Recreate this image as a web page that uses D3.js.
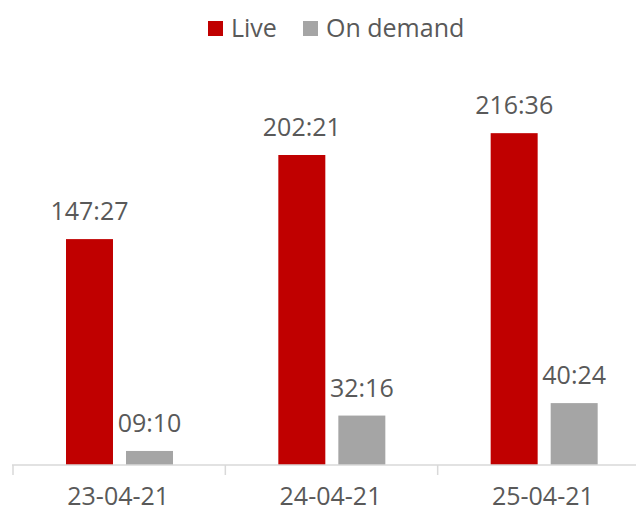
<!DOCTYPE html>
<html>
<head>
<meta charset="utf-8">
<script src="https://cdn.jsdelivr.net/npm/d3@7"></script>
<style>
  body { margin: 0; background: #fff; }
  text { font-family: "Open Sans", sans-serif; fill: #595959; }
</style>
</head>
<body>
<div id="chart"></div>
<script>
// data (hours:minutes)
const dates = ['23-04-21', '24-04-21', '25-04-21'];
const series = ['Live', 'On demand'];
const live = ['147:27', '202:21', '216:36'];
const onDemand = ['09:10', '32:16', '40:24'];
const colors = ['#c00000', '#a5a5a5'];

const toMinutes = s => {
  const [h, m] = s.split(':').map(Number);
  return h * 60 + m;
};

const rows = dates.map((d, i) => ({
  date: d,
  values: [
    {key: series[0], label: live[i], value: toMinutes(live[i])},
    {key: series[1], label: onDemand[i], value: toMinutes(onDemand[i])}
  ]
}));

// dimensions
const width = 636;
const height = 513;
const baseY = 465;
const topY = 82;

const svg = d3.select('#chart')
  .append('svg')
  .attr('width', width)
  .attr('height', height);

// scales
const x0 = d3.scaleBand().domain(dates).range([12, 649]);
const x1 = d3.scaleBand().domain(series).range([54, 161]).paddingInner(0.217);
const y = d3.scaleLinear().domain([0, 250 * 60]).range([baseY, topY]);
const color = d3.scaleOrdinal().domain(series).range(colors);

// bars
const groups = svg.selectAll('g.group')
  .data(rows)
  .enter().append('g')
  .attr('class', 'group')
  .attr('transform', d => 'translate(' + x0(d.date) + ',0)');

groups.selectAll('rect')
  .data(d => d.values)
  .enter().append('rect')
  .attr('x', d => x1(d.key))
  .attr('y', d => y(d.value))
  .attr('width', x1.bandwidth())
  .attr('height', d => baseY - y(d.value))
  .attr('fill', d => color(d.key));

groups.selectAll('text.label')
  .data(d => d.values)
  .enter().append('text')
  .attr('class', 'label')
  .attr('x', d => x1(d.key) + x1.bandwidth() / 2)
  .attr('y', d => y(d.value) - 19)
  .attr('text-anchor', 'middle')
  .style('font-size', '25px')
  .text(d => d.label);

// x axis
const axis = svg.append('g')
  .attr('transform', 'translate(0,' + baseY + ')')
  .call(d3.axisBottom(x0).tickSize(0).tickPadding(22));
axis.select('.domain').remove();
axis.selectAll('text')
  .style('font-size', '25px')
  .attr('fill', '#595959');

axis.append('line')
  .attr('x1', 12).attr('x2', width)
  .attr('stroke', '#d9d9d9').attr('stroke-width', 1.5);

axis.selectAll('line.tick-mark')
  .data(dates)
  .enter().append('line')
  .attr('class', 'tick-mark')
  .attr('x1', d => x0(d) + 1).attr('x2', d => x0(d) + 1)
  .attr('y1', 0).attr('y2', 10)
  .attr('stroke', '#d9d9d9').attr('stroke-width', 1.5);

// legend
const legendX = [208, 303];
const legend = svg.selectAll('g.legend')
  .data(series)
  .enter().append('g')
  .attr('class', 'legend')
  .attr('transform', (d, i) => 'translate(' + legendX[i] + ',21)');

legend.append('rect')
  .attr('width', 15).attr('height', 15)
  .attr('fill', d => color(d));

legend.append('text')
  .attr('x', 23).attr('y', 16)
  .style('font-size', '25px')
  .text(d => d);
</script>
</body>
</html>
